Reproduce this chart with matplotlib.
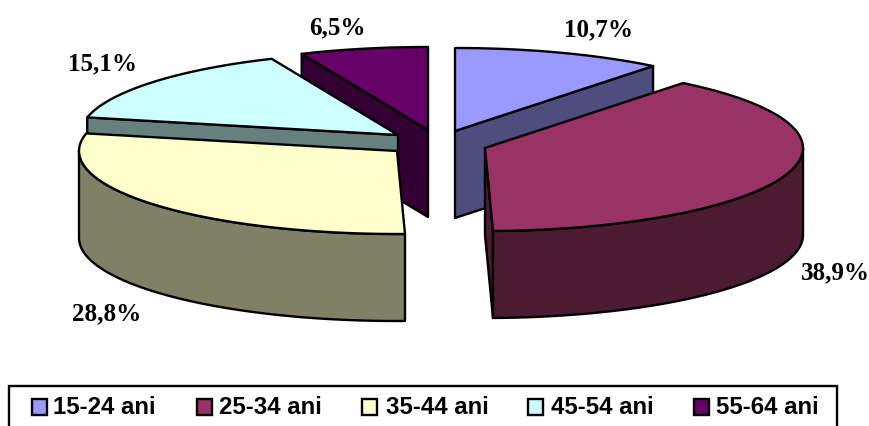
import numpy as np
import matplotlib
matplotlib.use('Agg')
import matplotlib.pyplot as plt
from matplotlib.patches import Polygon, Rectangle

# Data
age_groups = ['15-24 ani', '25-34 ani', '35-44 ani', '45-54 ani', '55-64 ani']
shares = [10.7, 38.9, 28.8, 15.1, 6.5]
share_labels = ['10,7%', '38,9%', '28,8%', '15,1%', '6,5%']

# Style and layout (pixels of the picture)
top_colors = ['#9999FF', '#993366', '#FFFFCC', '#CCFFFF', '#660066']
side_colors = ['#4D4D80', '#4D1A33', '#808066', '#668080', '#330033']
apexes = [(455, 132), (485, 149), (397, 152), (398, 136), (428, 131)]
label_positions = [(599, 30), (835, 273), (107, 314), (103, 64), (337, 28)]
swatch_x = [32, 197, 362, 528, 694]
legend_text_x = [53, 219, 386, 551, 716]
RX, RY, DEPTH = 318, 83, 87
LW = 1.7

fig = plt.figure(figsize=(8.7, 4.27), dpi=100)
ax = fig.add_axes([0, 0, 1, 1])
ax.set_xlim(0, 870)
ax.set_ylim(427, 0)
ax.axis('off')


def rim_point(apex, angle):
    # angle in degrees, clockwise from twelve o'clock
    a = np.radians(angle)
    return apex[0] + RX * np.sin(a), apex[1] - RY * np.cos(a)


def arc(apex, start, end):
    angles = np.linspace(start, end, 80)
    return [rim_point(apex, t) for t in angles]


def add_poly(points, color):
    ax.add_patch(Polygon(points, closed=True, facecolor=color, edgecolor='black',
                         linewidth=LW, joinstyle='round'))


def down(points):
    return [(x, y + DEPTH) for x, y in points]


def draw_slice(i, start, end):
    apex = apexes[i]
    side = side_colors[i]
    # cut faces: only the ones turned towards the viewer
    cuts = []
    if start >= 180:
        cuts.append(start)
    if end < 180:
        cuts.append(end)
    for angle in cuts:
        p = rim_point(apex, angle)
        add_poly([apex, p] + down([p, apex]), side)
    # outer rim, the front half of the ellipse
    lo, hi = max(start, 90), min(end, 270)
    if lo < hi:
        curve = arc(apex, lo, hi)
        add_poly(curve + down(curve)[::-1], side)
    add_poly([apex] + arc(apex, start, end), top_colors[i])


edges = np.concatenate([[0], np.cumsum(shares)]) / sum(shares) * 360

# back slices first, the two front ones last
for i in [4, 3, 2, 0, 1]:
    draw_slice(i, edges[i], edges[i + 1])

for (x, y), txt in zip(label_positions, share_labels):
    ax.text(x, y, txt, family='Liberation Serif', fontweight='bold', fontsize=18,
            ha='center', va='center', color='black')

# Legend box runs off the bottom edge of the picture
ax.add_patch(Rectangle((9, 387), 828, 60, facecolor='white', edgecolor='black', linewidth=LW))
for i, name in enumerate(age_groups):
    ax.add_patch(Rectangle((swatch_x[i], 400), 15, 16, facecolor=top_colors[i],
                           edgecolor='black', linewidth=LW))
    ax.text(legend_text_x[i], 408, name, family='Liberation Sans', fontweight='bold',
            fontsize=17.3, ha='left', va='center', color='black')

fig.savefig('out.png', dpi=100)
